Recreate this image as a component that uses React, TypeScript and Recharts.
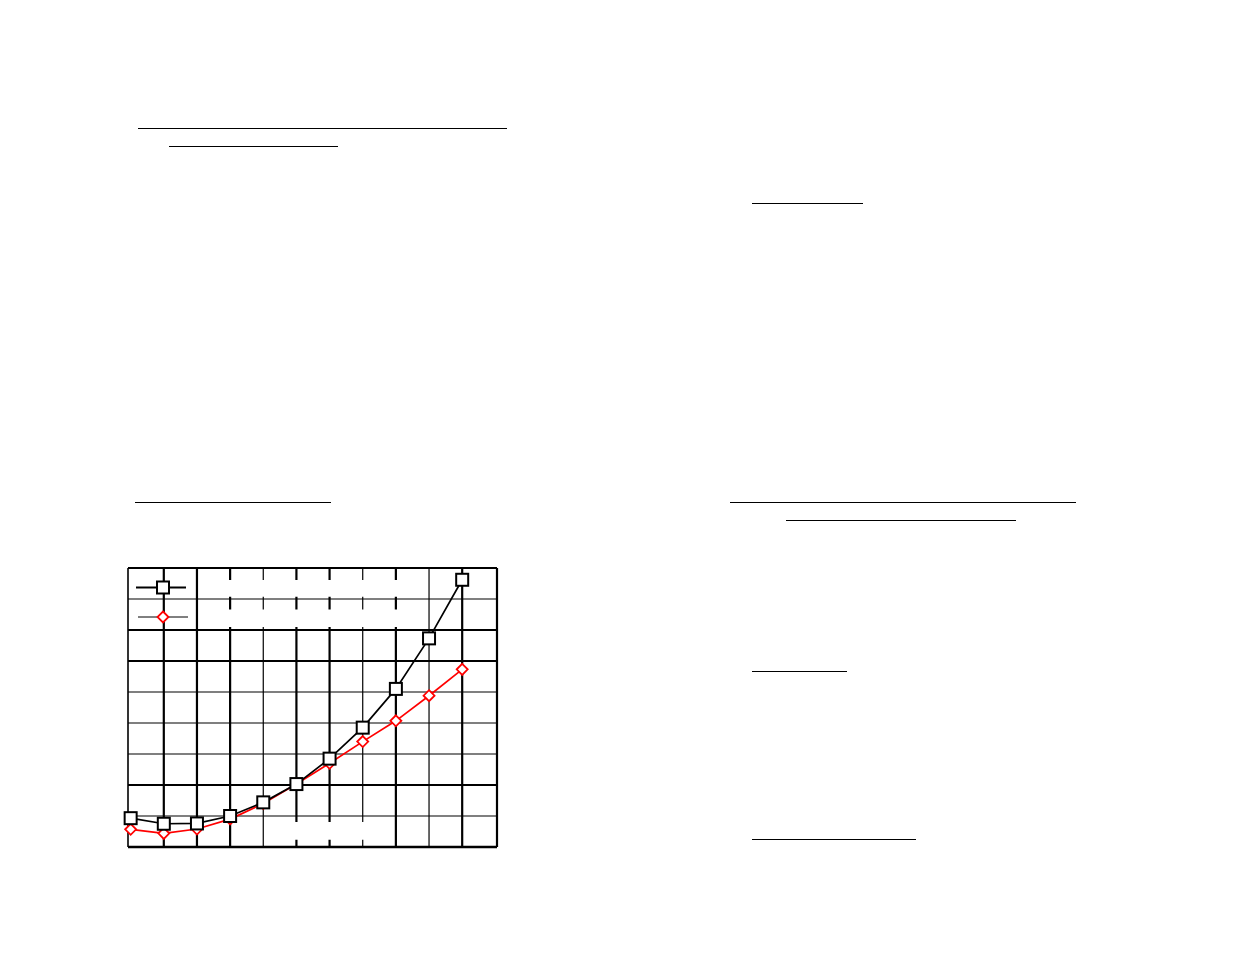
import React from 'react';
import {
  LineChart,
  Line,
  XAxis,
  YAxis,
  ReferenceLine,
  ReferenceArea,
} from 'recharts';

// x positions of the points and the two series (y in gridline units x10)
const xValues = [0, 1, 2, 3, 4, 5, 6, 7, 8, 9, 10];
const upperSeries = [9.3, 7.5, 7.6, 10, 14.4, 20.3, 28.5, 38.5, 51, 67.3, 86.2];
const lowerSeries = [5.7, 4.4, 5.8, 9, 14, 20.3, 27, 34, 40.7, 48.8, 57.3];

const xTicks = [1, 2, 3, 4, 5, 6, 7, 8, 9, 10];
const yTicks = [0, 10, 20, 30, 40, 50, 60, 70, 80, 90];

// underlines on the page (text itself is blank in the reference)
const pageRules = [
  { x1: 138, x2: 507, y: 128 },
  { x1: 169, x2: 338, y: 146 },
  { x1: 752, x2: 863, y: 203 },
  { x1: 135, x2: 331, y: 502 },
  { x1: 730, x2: 1076, y: 502 },
  { x1: 786, x2: 1016, y: 520 },
  { x1: 752, x2: 847, y: 671 },
  { x1: 752, x2: 916, y: 839 },
];

const data = xValues.map((x, i) => ({
  x,
  upper: upperSeries[i],
  lower: lowerSeries[i],
}));

const SquareDot = (props: any) => {
  const { cx, cy, index } = props;
  if (cx == null || cy == null) return null;
  return (
    <rect
      key={`sq-${index}`}
      x={cx - 6}
      y={cy - 6}
      width={12}
      height={12}
      fill="#fff"
      stroke="#000"
      strokeWidth={2}
    />
  );
};

const DiamondDot = (props: any) => {
  const { cx, cy, index } = props;
  if (cx == null || cy == null) return null;
  const r = 5.5;
  return (
    <path
      key={`dm-${index}`}
      d={`M${cx},${cy - r}L${cx + r},${cy}L${cx},${cy + r}L${cx - r},${cy}Z`}
      fill="#fff"
      stroke="#ff0000"
      strokeWidth={1.8}
    />
  );
};

// legend keys drawn over the top-left corner of the plot
const ChartKey = () => (
  <svg
    width={70}
    height={50}
    style={{ position: 'absolute', left: 130, top: 570, overflow: 'visible' }}
  >
    <line x1={6} x2={56} y1={17.5} y2={17.5} stroke="#000" strokeWidth={2} />
    <rect x={27} y={11.5} width={12} height={12} fill="#fff" stroke="#000" strokeWidth={2} />
    <line x1={8} x2={58} y1={47} y2={47} stroke="#000" strokeWidth={1} />
    <path d="M33,41.5L38.5,47L33,52.5L27.5,47Z" fill="#fff" stroke="#ff0000" strokeWidth={1.8} />
  </svg>
);

const boldX = new Set([1, 2, 3, 5, 6, 8, 10]);
const boldY = new Set([20, 60, 70]);

export default function App() {
  return (
    <div
      style={{
        position: 'absolute',
        left: 0,
        top: 0,
        width: 1235,
        height: 954,
        background: '#fff',
        overflow: 'hidden',
      }}
    >
      {pageRules.map((r, i) => (
        <div
          key={i}
          style={{
            position: 'absolute',
            left: r.x1,
            top: r.y,
            width: r.x2 - r.x1,
            height: 1.3,
            background: '#000',
          }}
        />
      ))}

      <div style={{ position: 'absolute', left: 100, top: 540 }}>
        <LineChart
          width={420}
          height={330}
          data={data}
          margin={{ top: 28, right: 23, bottom: 19, left: 24 }}
        >
          {xTicks.map((t) => (
            <ReferenceLine
              key={`vx-${t}`}
              x={t}
              stroke="#000"
              strokeWidth={boldX.has(t) ? 2.2 : 1.2}
              zIndex={-100}
            />
          ))}
          {yTicks
            .filter((t) => t > 0 && t < 90)
            .map((t) => (
              <ReferenceLine
                key={`hy-${t}`}
                y={t}
                stroke="#000"
                strokeWidth={boldY.has(t) ? 2.2 : 1.2}
                zIndex={-100}
              />
            ))}
          <ReferenceLine y={90} stroke="#000" strokeWidth={2.2} zIndex={-100} />
          <ReferenceLine x={11.05} stroke="#000" strokeWidth={2.2} zIndex={-100} />

          {/* blank label patches that hide the gridlines */}
          <ReferenceArea x1={2.06} x2={8.85} y1={80.7} y2={86.1} fill="#fff" fillOpacity={1} stroke="none" zIndex={-50} />
          <ReferenceArea x1={2.06} x2={8.85} y1={71} y2={76.6} fill="#fff" fillOpacity={1} stroke="none" zIndex={-50} />
          <ReferenceArea x1={4.14} x2={7.22} y1={2.3} y2={8.1} fill="#fff" fillOpacity={1} stroke="none" zIndex={-50} />

          <XAxis
            dataKey="x"
            type="number"
            domain={[-0.08, 11.05]}
            ticks={xTicks}
            tick={false}
            tickSize={3}
            height={4}
            axisLine={{ stroke: '#000', strokeWidth: 2.4 }}
            tickLine={{ stroke: '#000', strokeWidth: 1.5 }}
          />
          <YAxis
            type="number"
            domain={[0, 90]}
            ticks={yTicks}
            tick={false}
            tickSize={4}
            width={4}
            axisLine={{ stroke: '#000', strokeWidth: 1.6 }}
            tickLine={{ stroke: '#000', strokeWidth: 1.3 }}
          />

          <Line
            type="linear"
            dataKey="lower"
            stroke="#ff0000"
            strokeWidth={1.7}
            dot={DiamondDot}
            activeDot={false}
            isAnimationActive={false}
          />
          <Line
            type="linear"
            dataKey="upper"
            stroke="#000"
            strokeWidth={1.7}
            dot={SquareDot}
            activeDot={false}
            isAnimationActive={false}
          />
        </LineChart>
      </div>

      <ChartKey />
    </div>
  );
}
